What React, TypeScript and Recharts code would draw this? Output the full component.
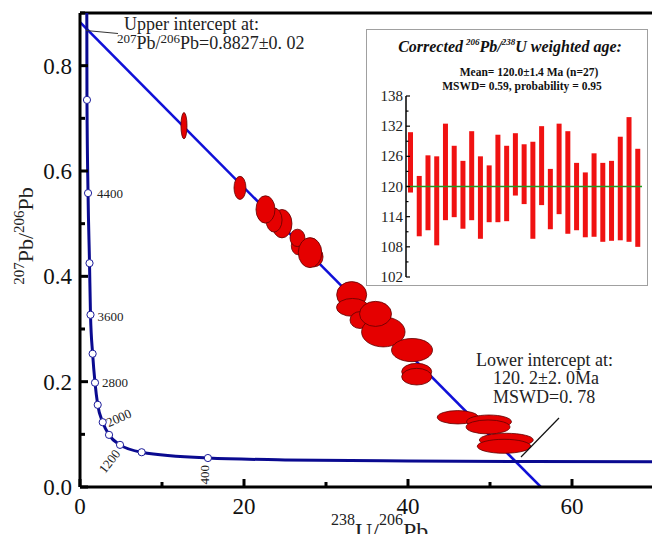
import React from "react";
import {
  ComposedChart,
  BarChart,
  Bar,
  Line,
  Scatter,
  XAxis,
  YAxis,
  ReferenceLine,
} from "recharts";

const FONT = "Liberation Serif, Times New Roman, serif";
const SERIF = { fontFamily: FONT };

// main chart geometry
const W = 660;
const H = 534;
const M_TOP = 13;
const M_RIGHT = 6;
const Y_AXIS_W = 80;
const X_AXIS_H = 47;
const X_MAX = 70;
const Y_MAX = 0.9;
const PX_X = (W - Y_AXIS_W - M_RIGHT) / X_MAX;
const PX_Y = (H - M_TOP - X_AXIS_H) / Y_MAX;

// concordia curve
const CONC_X = [0.83, 0.85, 0.98, 1.16, 1.28, 1.54, 1.83, 2.16, 2.77, 3.54, 4.88, 7.52, 15.6, 25, 40, 55, 70];
const CONC_Y = [0.9, 0.735, 0.558, 0.425, 0.327, 0.253, 0.198, 0.156, 0.123, 0.099, 0.08, 0.066, 0.055, 0.0515, 0.0494, 0.0485, 0.048];

// age markers on the concordia (Ma)
const MARK_AGE = [4800, 4400, 4000, 3600, 3200, 2800, 2400, 2000, 1600, 1200, 800, 400];
const MARK_X = [0.85, 0.98, 1.16, 1.28, 1.54, 1.83, 2.16, 2.77, 3.54, 4.88, 7.52, 15.6];
const MARK_Y = [0.735, 0.558, 0.425, 0.327, 0.253, 0.198, 0.156, 0.123, 0.099, 0.08, 0.066, 0.055];
const LABELLED = [4400, 3600, 2800, 2000, 1200, 400];

// discordia: upper intercept -> x axis
const DISC_X = [0, 56.2];
const DISC_Y = [0.8827, 0];

// analysis ellipses (centre and half-widths), in drawing order
const ELL_X = [12.68, 19.51, 24.63, 23.66, 22.62, 26.59, 26.52, 28.54, 28.05, 33.13, 33.23, 34.15, 36.99, 36.04, 40.49, 41.06, 41.06, 46.07, 49.88, 49.76, 51.99, 51.71];
const ELL_Y = [0.686, 0.568, 0.5, 0.507, 0.527, 0.458, 0.473, 0.437, 0.445, 0.365, 0.341, 0.317, 0.2945, 0.3287, 0.26, 0.219, 0.2095, 0.1324, 0.124, 0.114, 0.0893, 0.0773];
const ELL_SX = [0.37, 0.73, 1.22, 0.98, 1.16, 0.82, 0.91, 1.1, 1.43, 1.83, 1.95, 1.22, 2.65, 1.95, 2.5, 1.83, 1.83, 2.5, 2.74, 2.68, 3.29, 3.26];
const ELL_SY = [0.025, 0.022, 0.027, 0.023, 0.026, 0.017, 0.0165, 0.019, 0.0285, 0.025, 0.017, 0.016, 0.0285, 0.0238, 0.022, 0.0158, 0.0158, 0.0127, 0.0127, 0.0133, 0.0127, 0.0133];

// inset: 206Pb/238U ages, error bar ends (Ma)
const AGE_LOW = [118.8, 110.1, 111.3, 108.3, 113.3, 113.9, 111.6, 113.3, 109.6, 112.9, 112.9, 113.1, 118.2, 116.5, 109.6, 116.3, 111.5, 114.5, 110.6, 111.3, 109.9, 110.0, 109.0, 109.2, 109.3, 109.0, 108.0];
const AGE_HIGH = [130.8, 122.1, 126.2, 126.0, 132.5, 128.1, 125.1, 131.0, 126.0, 124.2, 130.3, 128.1, 130.6, 128.4, 128.9, 132.0, 123.5, 132.5, 131.0, 124.7, 122.8, 126.6, 124.7, 125.1, 129.9, 133.8, 127.5];
const MEAN_AGE = 120.0;
const INSET_TICKS = [102, 105, 108, 111, 114, 117, 120, 123, 126, 129, 132, 135, 138];

const X_TICKS = [0, 10, 20, 30, 40, 50, 60, 70];
const Y_TICKS = [0, 0.1, 0.2, 0.3, 0.4, 0.5, 0.6, 0.7, 0.8, 0.9];

const concordia = CONC_X.map((x, i) => ({ x, y: CONC_Y[i] }));
const markers = MARK_AGE.map((age, i) => ({ age, x: MARK_X[i], y: MARK_Y[i] }));
const discordia = DISC_X.map((x, i) => ({ x, y: DISC_Y[i] }));
const ellipses = ELL_X.map((x, i) => ({ x, y: ELL_Y[i], sx: ELL_SX[i], sy: ELL_SY[i] }));
const insetData = AGE_LOW.map((lo, i) => ({ n: i + 1, range: [lo, AGE_HIGH[i]] }));

// label placement for the age markers
const LABEL_POS: Record<number, { dx: number; dy: number; rot: number; anchor: string }> = {
  4400: { dx: 9, dy: 5, rot: 0, anchor: "start" },
  3600: { dx: 7, dy: 6, rot: 0, anchor: "start" },
  2800: { dx: 7, dy: 4, rot: 0, anchor: "start" },
  2000: { dx: 6, dy: 5, rot: -24, anchor: "start" },
  1200: { dx: 1, dy: 9, rot: -52, anchor: "end" },
  400: { dx: 1, dy: 7, rot: -90, anchor: "end" },
};

const renderXTick = ({ x, y, payload }: any) => {
  const major = payload.value % 20 === 0;
  return (
    <g key={`xt-${payload.value}`}>
      <line x1={x} x2={x} y1={y} y2={y - (major ? 8 : 5)} stroke="#000" strokeWidth={3} />
      {major && (
        <text x={x} y={y + 27} textAnchor="middle" fontSize={23} style={SERIF} fill="#111">
          {payload.value}
        </text>
      )}
    </g>
  );
};

const renderYTick = ({ x, y, payload }: any) => {
  const major = Math.round(payload.value * 10) % 2 === 0;
  return (
    <g key={`yt-${payload.value}`}>
      <line x1={x} x2={x + (major ? 8 : 5)} y1={y} y2={y} stroke="#000" strokeWidth={3} />
      {major && (
        <text x={x - 8} y={y + 8} textAnchor="end" fontSize={23} style={SERIF} fill="#111">
          {payload.value.toFixed(1)}
        </text>
      )}
    </g>
  );
};

const renderInsetTick = ({ x, y, payload }: any) => {
  const major = (payload.value - 102) % 6 === 0;
  return (
    <g key={`it-${payload.value}`}>
      <line x1={x} x2={x + (major ? 4 : 2.5)} y1={y} y2={y} stroke="#000" strokeWidth={1.2} />
      {major && (
        <text x={x - 3} y={y + 5} textAnchor="end" fontSize={15} style={SERIF} fill="#222">
          {payload.value}
        </text>
      )}
    </g>
  );
};

function MarkerShape(p: any) {
  const age = p.payload.age;
  const pos = LABELLED.includes(age) ? LABEL_POS[age] : null;
  return (
    <g>
      <circle cx={p.cx} cy={p.cy} r={3.6} fill="#fff" stroke="#1a1a9a" strokeWidth={1} />
      {pos && (
        <text
          x={p.cx + pos.dx}
          y={p.cy + pos.dy}
          textAnchor={pos.anchor}
          fontSize={13}
          style={SERIF}
          fill="#222"
          transform={pos.rot ? `rotate(${pos.rot}, ${p.cx + pos.dx}, ${p.cy + pos.dy})` : undefined}
        >
          {age}
        </text>
      )}
    </g>
  );
}

function EllipseShape(p: any) {
  return (
    <ellipse
      cx={p.cx}
      cy={p.cy}
      rx={p.payload.sx * PX_X}
      ry={p.payload.sy * PX_Y}
      fill="#e50000"
      stroke="#600000"
      strokeWidth={0.8}
    />
  );
}

function Inset() {
  return (
    <div
      style={{
        position: "absolute",
        left: 366,
        top: 29,
        width: 280,
        height: 255,
        border: "1px solid #a0a0a0",
        background: "#fff",
      }}
    >
      <svg width={280} height={70} style={{ position: "absolute", left: 0, top: 0 }}>
        <text x={143} y={22} textAnchor="middle" fontSize={16} fontWeight="bold" fontStyle="italic" style={SERIF} fill="#111">
          Corrected
          <tspan fontSize={9} dx={3} dy={-7}>206</tspan>
          <tspan dy={7}>Pb/</tspan>
          <tspan fontSize={9} dy={-7}>238</tspan>
          <tspan dy={7}>U weighted age:</tspan>
        </text>
        <text x={162} y={46} textAnchor="middle" fontSize={11.5} fontWeight="bold" style={SERIF} fill="#111">
          Mean= 120.0±1.4 Ma (n=27)
        </text>
        <text x={155} y={60} textAnchor="middle" fontSize={11.5} fontWeight="bold" style={SERIF} fill="#111">
          MSWD= 0.59, probability = 0.95
        </text>
      </svg>
      <div style={{ position: "absolute", left: 0, top: 0 }}>
        <BarChart width={280} height={255} data={insetData} margin={{ top: 66, right: 5, bottom: 8, left: 0 }}>
          <XAxis dataKey="n" hide height={0} />
          <YAxis
            domain={[102, 138]}
            ticks={INSET_TICKS}
            interval={0}
            width={39}
            axisLine={{ stroke: "#000", strokeWidth: 1.5 }}
            tickLine={false}
            tickSize={0}
            tickMargin={0}
            tick={renderInsetTick}
            allowDataOverflow
          />
          <ReferenceLine y={MEAN_AGE} stroke="#1f9a1f" strokeWidth={1.5} />
          <Bar dataKey="range" fill="#f01212" barSize={5} isAnimationActive={false} />
        </BarChart>
      </div>
    </div>
  );
}

export default function App() {
  return (
    <div
      style={{
        position: "fixed",
        left: 0,
        top: 0,
        width: 652,
        height: 534,
        overflow: "hidden",
        background: "#fff",
        fontFamily: FONT,
      }}
    >
      <div style={{ position: "absolute", left: 0, top: 0 }}>
        <ComposedChart width={W} height={H} margin={{ top: M_TOP, right: M_RIGHT, bottom: 0, left: 0 }}>
          <XAxis
            type="number"
            dataKey="x"
            domain={[0, X_MAX]}
            ticks={X_TICKS}
            interval={0}
            height={X_AXIS_H}
            axisLine={{ stroke: "#000", strokeWidth: 3 }}
            tickLine={false}
            tickSize={0}
            tickMargin={0}
            tick={renderXTick}
            allowDataOverflow
          />
          <YAxis
            type="number"
            dataKey="y"
            domain={[0, Y_MAX]}
            ticks={Y_TICKS}
            interval={0}
            width={Y_AXIS_W}
            axisLine={{ stroke: "#000", strokeWidth: 3 }}
            tickLine={false}
            tickSize={0}
            tickMargin={0}
            tick={renderYTick}
            allowDataOverflow
          />
          <ReferenceLine y={Y_MAX} stroke="#000" strokeWidth={3} />
          <Line
            data={discordia}
            dataKey="y"
            type="linear"
            stroke="#1010d8"
            strokeWidth={2.5}
            dot={false}
            activeDot={false}
            isAnimationActive={false}
          />
          <Line
            data={concordia}
            dataKey="y"
            type="monotoneX"
            stroke="#0a0a90"
            strokeWidth={3}
            dot={false}
            activeDot={false}
            isAnimationActive={false}
          />
          <Scatter data={markers} shape={MarkerShape} isAnimationActive={false} />
          <Scatter data={ellipses} shape={EllipseShape} isAnimationActive={false} />
        </ComposedChart>
      </div>

      <svg width={652} height={534} style={{ position: "absolute", left: 0, top: 0, pointerEvents: "none" }}>
        {/* upper intercept note */}
        <line x1={86} y1={30.5} x2={118} y2={33.5} stroke="#333" strokeWidth={1} />
        <text x={124} y={30} fontSize={18} style={SERIF} fill="#222">
          Upper intercept at:
        </text>
        <text x={117} y={49} fontSize={18} style={SERIF} fill="#222">
          <tspan fontSize={13} dy={-6}>207</tspan>
          <tspan dy={6}>Pb/</tspan>
          <tspan fontSize={13} dy={-6}>206</tspan>
          <tspan dy={6}>Pb=0.8827±0. 02</tspan>
        </text>

        {/* lower intercept note */}
        <line x1={559} y1={418} x2={521} y2={457} stroke="#111" strokeWidth={1.2} />
        <text x={476} y={366} fontSize={18} style={SERIF} fill="#222">
          Lower intercept at:
        </text>
        <text x={493} y={384} fontSize={18} style={SERIF} fill="#222">
          120. 2±2. 0Ma
        </text>
        <text x={493} y={403} fontSize={18} style={SERIF} fill="#222">
          MSWD=0. 78
        </text>

        {/* axis titles */}
        <text x={331} y={539} fontSize={24} style={SERIF} fill="#222">
          <tspan fontSize={16} dy={-14}>238</tspan>
          <tspan dy={14}>U/</tspan>
          <tspan fontSize={16} dy={-14}>206</tspan>
          <tspan dy={14}>Pb</tspan>
        </text>
        <text
          x={-236}
          y={33}
          transform="rotate(-90)"
          fontSize={22}
          style={SERIF}
          fill="#222"
          textAnchor="middle"
        >
          <tspan fontSize={15} dy={-9}>207</tspan>
          <tspan dy={9}>Pb/</tspan>
          <tspan fontSize={15} dy={-9}>206</tspan>
          <tspan dy={9}>Pb</tspan>
        </text>
      </svg>

      <Inset />
    </div>
  );
}
